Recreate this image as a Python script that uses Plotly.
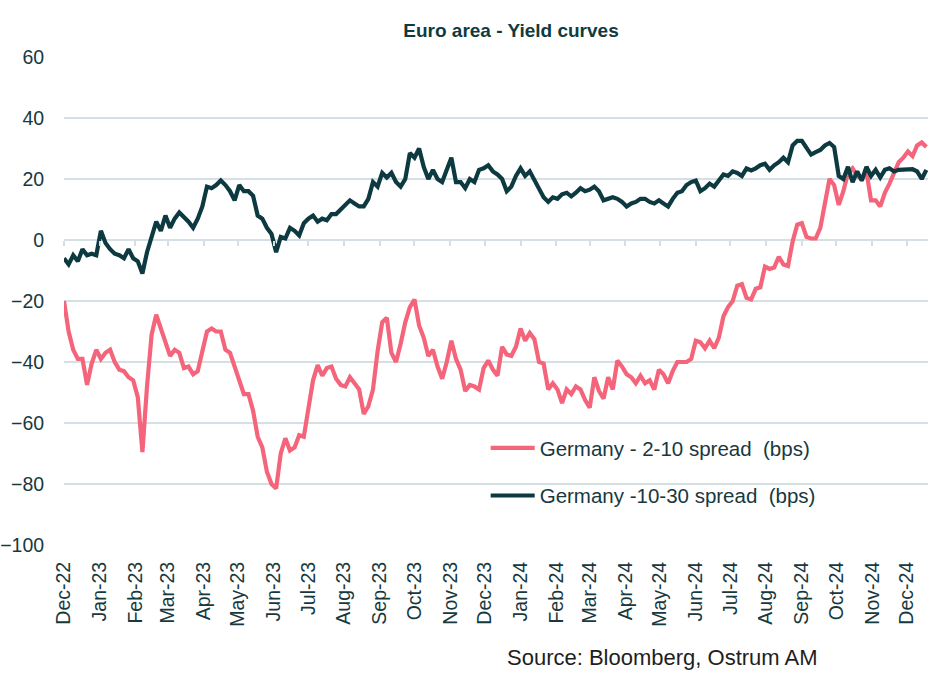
import pandas as pd
import plotly.graph_objects as go

# Observation dates: every 4 days from 1 Dec 2022
dates = pd.date_range("2022-12-01", periods=188, freq="4D")

spread_2_10 = [
    -20, -30, -36, -39, -39, -47.5, -40.5, -36, -39, -37,
    -36, -40, -42.5, -43, -45, -46, -51.5, -69.5, -48, -31,
    -24.5, -29, -33.5, -38, -36, -37, -42, -41.5, -44, -43,
    -36.5, -30, -29, -30, -30, -36, -37, -41.5, -46, -50.5,
    -50.5, -56, -64.5, -68, -76, -80, -81.5, -70, -65, -69,
    -68, -64, -64.5, -56, -46, -41, -44.5, -42, -41.5, -45.5,
    -47.5, -48, -45, -47, -49, -57, -54.5, -49, -36.5, -27,
    -25.5, -37, -40, -34, -27, -22, -19.5, -28, -32, -38,
    -36, -41.5, -45.5, -40, -33, -39, -42.5, -49.5, -47.5, -48,
    -49, -42, -39.5, -42.5, -44.5, -35, -37.5, -38, -35, -29,
    -33, -30.5, -32.5, -40, -40.5, -49, -47, -49, -53.5, -49,
    -50.5, -48, -49, -52.5, -55, -45, -49.5, -52, -45, -49,
    -39.5, -41.5, -44, -45, -47, -44.5, -47, -46, -49, -42.5,
    -44, -47, -43, -40, -40, -40, -39, -33, -33.5, -35.5,
    -33, -35.5, -32, -25, -22, -20, -15, -14.5, -19, -19.5,
    -16, -15.5, -8.7, -9.5, -9, -5.5, -8, -8.5, -0.5, 5,
    5.5, 1, 0.5, 0.5, 4, 12, 20, 18, 11.5, 16,
    22, 23.5, 21, 20, 22.5, 13, 13, 11, 15.5, 18.5,
    22, 25.5, 27, 29, 27.5, 31, 32, 30.5,
]

spread_10_30 = [
    -6, -8, -5, -7, -3, -5, -4.5, -5, 3, -1,
    -3, -4.5, -5, -6, -3, -6, -7, -11, -4, 1,
    6, 3, 8, 4, 7, 9, 7.5, 6, 4, 7,
    11, 17.5, 17, 18, 19.5, 18, 16, 13, 18, 16,
    16, 14.5, 8, 7, 4, 2, -4, 1, 0.5, 4,
    3, 1.5, 5.5, 7, 8, 6, 7, 6.5, 8.5, 8.5,
    10, 11.5, 13, 12, 11, 11, 13.5, 19, 17.5, 22,
    20.5, 22, 19, 17.5, 20, 28.5, 27, 30, 24, 20,
    23, 20, 19, 23, 27, 19, 19, 17, 20, 19,
    23, 23.5, 24.5, 22.5, 21.5, 20, 16, 17.5, 21, 23.5,
    21, 22.5, 19.5, 16.5, 14, 12.5, 14, 13.5, 15, 15.5,
    14.3, 15.5, 17, 16, 16.5, 17.5, 16, 13, 13.5, 14,
    13.5, 12.5, 11, 12, 12.5, 13.5, 13.5, 12.5, 12, 13,
    12, 11, 13.5, 15.5, 16, 18, 19, 19.5, 16, 17,
    18.5, 17.5, 19.5, 21.5, 21, 22.5, 22, 21, 23.5, 22.8,
    23.5, 24.5, 25, 23, 24.5, 25.5, 27, 25.5, 31, 32.5,
    32.5, 30.5, 28, 28.8, 29.5, 31, 31.8, 30.5, 21, 20,
    24, 19, 22.5, 19.5, 24, 21, 23, 20.5, 23, 23.5,
    22.5, 23, 23, 23, 23.2, 22.5, 20, 23,
]

series_names = ["Germany - 2-10 spread  (bps)", "Germany -10-30 spread  (bps)"]
title_text = "Euro area - Yield curves"
source_text = "Source: Bloomberg, Ostrum AM"

PINK = "#F4647A"
DARK = "#0C3A40"
GRID = "#D5E0E4"
TEXT = "#17393E"
CLEAR = "rgba(0,0,0,0)"
FONT = "Liberation Sans, Arial, sans-serif"

fig = go.Figure()
fig.add_trace(go.Scatter(
    x=dates, y=spread_2_10, mode="lines", name=series_names[0],
    line=dict(color=PINK, width=4.2), legendgroup="a",
))
fig.add_trace(go.Scatter(
    x=dates, y=spread_10_30, mode="lines", name=series_names[1],
    line=dict(color=DARK, width=4.2), legendgroup="b",
))
# invisible helper trace so the zero-crossing tick axis is rendered
fig.add_trace(go.Scatter(
    x=dates, y=spread_10_30, mode="lines", xaxis="x2",
    line=dict(color=CLEAR, width=0), showlegend=False, hoverinfo="skip",
))

x_range = ["2022-12-01", "2024-12-19 10:00"]

fig.update_layout(
    width=948, height=686,
    margin=dict(l=64, r=20, t=57, b=141, autoexpand=False),
    paper_bgcolor="white", plot_bgcolor="white",
    font=dict(family=FONT, size=20, color=TEXT),
    title=dict(
        text="<b>" + title_text + "</b>",
        x=511 / 948, xanchor="center", xref="container",
        y=1 - 30 / 686, yanchor="middle", yref="container",
        font=dict(family=FONT, size=19, color="#0F3B40"),
    ),
    xaxis=dict(
        type="date", range=x_range, dtick="M1", tick0="2022-12-01",
        tickformat="%b-%y", tickangle=-90, showgrid=False, zeroline=False,
        showline=False, ticks="outside", ticklen=8, tickcolor=CLEAR,
        automargin=False,
        tickfont=dict(family=FONT, size=19.5, color=TEXT),
    ),
    xaxis2=dict(
        type="date", range=x_range, dtick="M1", tick0="2022-12-01",
        overlaying="x", anchor="free", position=100 / 160, side="bottom",
        showticklabels=False, ticks="outside", ticklen=5, tickwidth=1.5,
        tickcolor=GRID, showgrid=False, zeroline=False, showline=False,
    ),
    yaxis=dict(
        range=[-100, 60], dtick=20, tick0=0, showgrid=True, gridcolor=GRID,
        gridwidth=2, zeroline=True, zerolinecolor=GRID, zerolinewidth=2,
        showline=False, ticks="outside", ticklen=15, tickcolor=CLEAR,
        automargin=False,
        tickfont=dict(family=FONT, size=19.5, color=TEXT),
    ),
    legend=dict(
        x=(490 - 64) / 864 - 0.005, xanchor="left", y=(545 - 428) / 488, yanchor="top",
        bgcolor="rgba(255,255,255,0)", borderwidth=0,
        font=dict(family=FONT, size=20.5, color=TEXT),
        tracegroupgap=18, traceorder="grouped", itemwidth=44,
    ),
    showlegend=True,
    annotations=[dict(
        text=source_text, xref="paper", yref="paper",
        x=(820 - 64) / 864, xanchor="right",
        y=(545 - 657) / 488, yanchor="middle", showarrow=False,
        font=dict(family=FONT, size=22, color="#1E1E1E"),
    )],
)

fig.write_html("out.html")
